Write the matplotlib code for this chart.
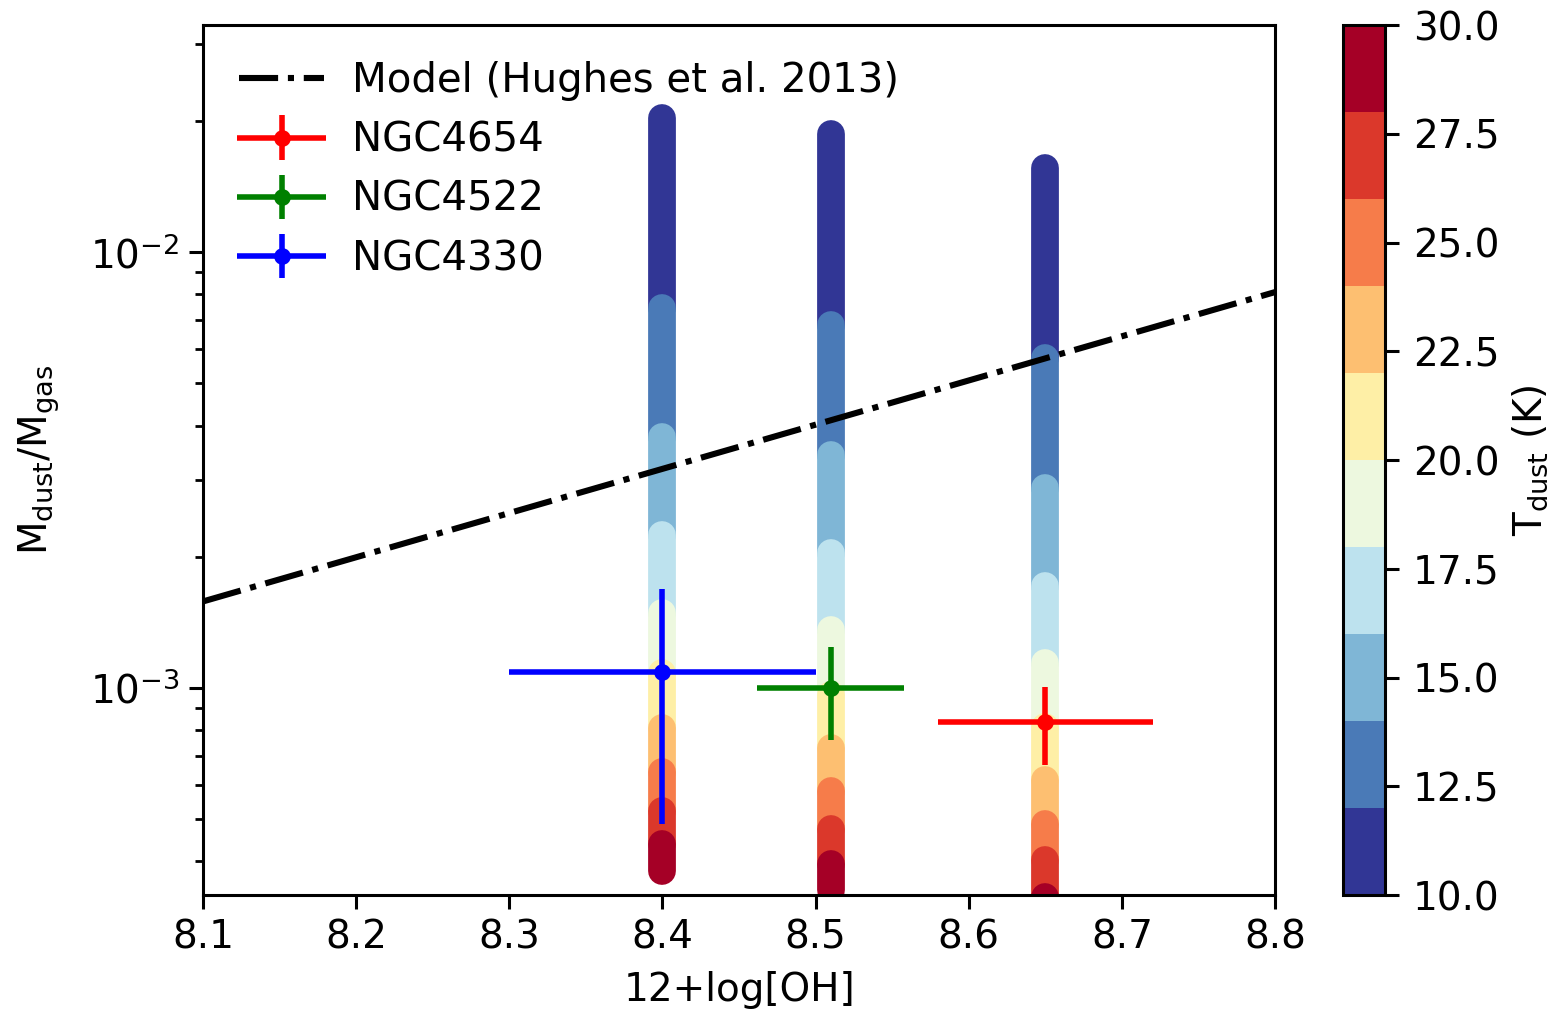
import numpy as np
import matplotlib
matplotlib.use('Agg')
import matplotlib.pyplot as plt
from matplotlib.colors import BoundaryNorm
from matplotlib.cm import ScalarMappable
from matplotlib.container import ErrorbarContainer
from matplotlib.legend_handler import HandlerErrorbar

# dust temperature grid (K) -> edges of the colour bins
t_dust = [10, 12, 14, 16, 18, 20, 22, 24, 26, 28, 30]

# Mdust/Mgas reached at each temperature, one vertical track per galaxy
track_oh = [8.40, 8.51, 8.65]
track_4330 = [2.03e-2, 7.44e-3, 3.76e-3, 2.24e-3, 1.49e-3, 1.08e-3, 8.10e-4, 6.42e-4, 5.22e-4, 4.39e-4, 3.80e-4]
track_4522 = [1.87e-2, 6.80e-3, 3.42e-3, 2.04e-3, 1.36e-3, 9.64e-4, 7.29e-4, 5.80e-4, 4.75e-4, 3.95e-4, 3.44e-4]
track_4654 = [1.56e-2, 5.71e-3, 2.88e-3, 1.71e-3, 1.14e-3, 8.14e-4, 6.15e-4, 4.88e-4, 4.03e-4, 3.32e-4, 2.91e-4]

# measured points
names = ['NGC4654', 'NGC4522', 'NGC4330']
oh = [8.65, 8.51, 8.40]
oh_err = [0.07, 0.048, 0.10]
dgr = [8.36e-4, 1.0e-3, 1.088e-3]
dgr_err = [1.7e-4, 2.4e-4, 6.0e-4]
colors = ['red', 'green', 'blue']

# Hughes et al. 2013 relation
model_oh = [8.1, 8.8]
model_dgr = [1.58e-3, 8.1e-3]

plt.rcParams['font.family'] = 'DejaVu Sans'
plt.rcParams['font.size'] = 14
plt.rcParams['axes.linewidth'] = 1.1
for a in ['xtick', 'ytick']:
    plt.rcParams[a + '.major.size'] = 5
    plt.rcParams[a + '.major.width'] = 1.1
    plt.rcParams[a + '.minor.size'] = 3
    plt.rcParams[a + '.minor.width'] = 1.0

fig = plt.figure(figsize=(7.815, 5.09), dpi=200)
ax = fig.add_axes([0.1299, 0.1208, 0.6859, 0.8546])
cax = fig.add_axes([0.8592, 0.1208, 0.0269, 0.8546])

cmap = plt.get_cmap('RdYlBu_r')
norm = BoundaryNorm(t_dust, cmap.N)

for x, track in zip(track_oh, [track_4330, track_4522, track_4654]):
    for i in range(len(t_dust) - 1):
        tmid = 0.5 * (t_dust[i] + t_dust[i + 1])
        ax.plot([x, x], [track[i], track[i + 1]], color=cmap(norm(tmid)),
                lw=10, solid_capstyle='round', zorder=2)

ax.plot(model_oh, model_dgr, 'k-.', lw=2.2, zorder=3, label='Model (Hughes et al. 2013)')

for i in range(len(names)):
    ax.errorbar(oh[i], dgr[i], xerr=oh_err[i], yerr=dgr_err[i], fmt='o', color=colors[i],
                ms=5, elinewidth=2, capsize=0, zorder=4, label=names[i])

ax.set_yscale('log')
ax.set_xlim(8.1, 8.8)
ax.set_ylim(3.35e-4, 3.32e-2)
ax.set_xticks([8.1, 8.2, 8.3, 8.4, 8.5, 8.6, 8.7, 8.8])
ax.yaxis.set_minor_formatter(matplotlib.ticker.NullFormatter())
ax.set_xlabel('12+log[OH]', labelpad=5)
ax.set_ylabel(r'$\mathrm{M_{dust}/M_{gas}}$')
ax.yaxis.set_label_coords(-0.132, 0.5)
ax.legend(loc='upper left', frameon=False, fontsize=14.5, handlelength=2.1, handletextpad=0.7,
          labelspacing=0.48,
          handler_map={ErrorbarContainer: HandlerErrorbar(xerr_size=1.1, yerr_size=0.55)})

sm = ScalarMappable(norm=norm, cmap=cmap)
cb = fig.colorbar(sm, cax=cax, ticks=[10, 12.5, 15, 17.5, 20, 22.5, 25, 27.5, 30], format='%.1f')
cb.ax.minorticks_off()
cb.ax.tick_params(length=5, width=1.1, pad=5)
cb.outline.set_linewidth(1.1)
cb.set_label(r'$\mathrm{T_{dust}}$ (K)')

fig.savefig('out.png', dpi=200)
